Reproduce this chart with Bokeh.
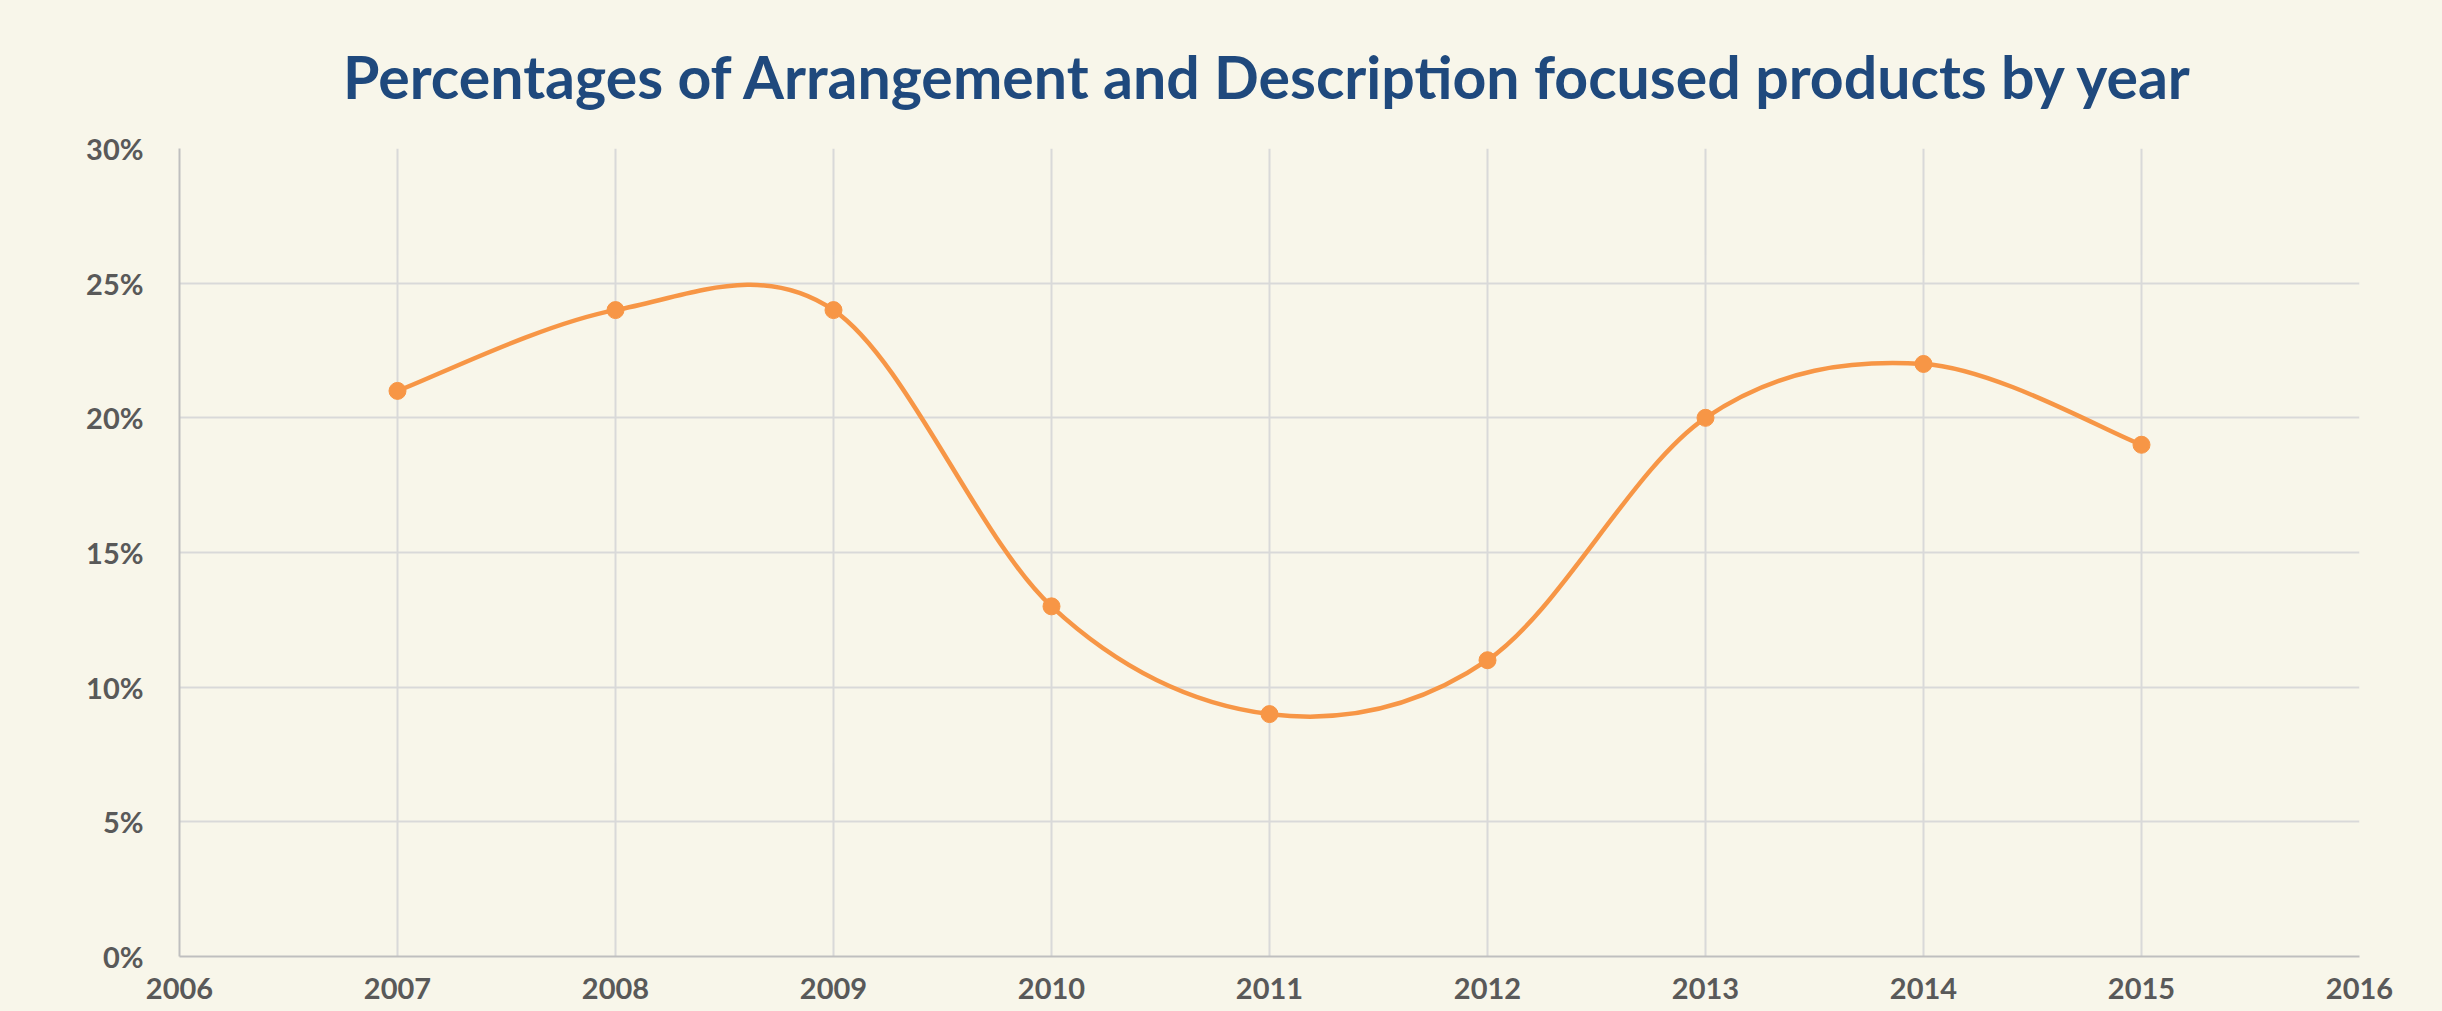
from bokeh.plotting import figure
from bokeh.models import FixedTicker, NumeralTickFormatter, Range1d
from bokeh.embed import file_html
from bokeh.resources import INLINE

years = [2007, 2008, 2009, 2010, 2011, 2012, 2013, 2014, 2015]
shares = [0.21, 0.24, 0.24, 0.13, 0.09, 0.11, 0.20, 0.22, 0.19]
x_ticks = [2006, 2007, 2008, 2009, 2010, 2011, 2012, 2013, 2014, 2015, 2016]
y_ticks = [0.0, 0.05, 0.10, 0.15, 0.20, 0.25, 0.30]
title_text = "Percentages of Arrangement and Description focused products by year"

BG = "#F8F6EA"

p = figure(width=2442, height=1011, output_backend="svg", toolbar_location=None,
           x_range=Range1d(2006, 2016), y_range=Range1d(0, 0.30),
           background_fill_color=BG, border_fill_color=BG,
           min_border_left=179, min_border_right=83, min_border_top=148, min_border_bottom=55,
           title=title_text)
p.outline_line_color = None

p.title.align = "center"
p.title.text_font = "Lato"
p.title.text_font_style = "bold"
p.title.text_font_size = "59px"
p.title.text_color = "#1F497D"
p.title.offset = -10
p.title.standoff = 74

# smoothed line (Catmull-Rom style bezier, as in spreadsheet "smoothed line")
n = len(years)
x0s, y0s, x1s, y1s, cx0, cy0, cx1, cy1 = [], [], [], [], [], [], [], []
for i in range(n - 1):
    xa, ya = years[i], shares[i]
    xb, yb = years[i + 1], shares[i + 1]
    xp, yp = (years[i - 1], shares[i - 1]) if i > 0 else (xa, ya)
    xn, yn = (years[i + 2], shares[i + 2]) if i + 2 < n else (xb, yb)
    x0s.append(xa); y0s.append(ya); x1s.append(xb); y1s.append(yb)
    cx0.append(xa + (xb - xp) / 6); cy0.append(ya + (yb - yp) / 6)
    cx1.append(xb - (xn - xa) / 6); cy1.append(yb - (yn - ya) / 6)

p.bezier(x0=x0s, y0=y0s, x1=x1s, y1=y1s, cx0=cx0, cy0=cy0, cx1=cx1, cy1=cy1,
         line_color="#F79646", line_width=4.5)
p.scatter(years, shares, size=17, fill_color="#F79646", line_color="#F79646")

for ax in (p.xaxis, p.yaxis):
    ax.axis_line_color = "#BFBFBF"
    ax.axis_line_width = 2
    ax.major_tick_line_color = None
    ax.minor_tick_line_color = None
    ax.major_label_text_font = "Lato"
    ax.major_label_text_font_style = "bold"
    ax.major_label_text_font_size = "29px"
    ax.major_label_text_color = "#595959"

p.xaxis.ticker = FixedTicker(ticks=x_ticks)
p.yaxis.ticker = FixedTicker(ticks=y_ticks)
p.yaxis.formatter = NumeralTickFormatter(format="0%")
p.xaxis.major_label_standoff = 15
p.yaxis.major_label_standoff = 30

p.xgrid.grid_line_color = "#D9D9D9"
p.ygrid.grid_line_color = "#D9D9D9"
p.xgrid.grid_line_width = 2
p.ygrid.grid_line_width = 2

html = file_html(p, INLINE)
html = html.replace("<body>", '<body style="background:%s">' % BG)
open("out.html", "w").write(html)
